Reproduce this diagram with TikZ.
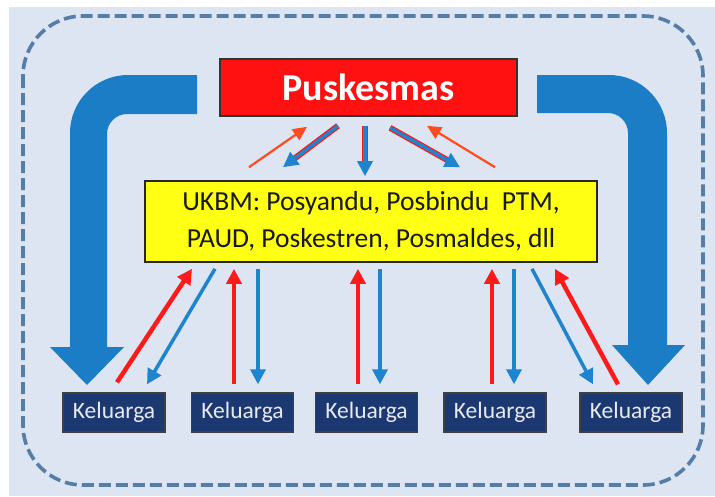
\documentclass[tikz,border=0pt]{standalone}
\usepackage{fontspec}
\setmainfont{Carlito}
\usetikzlibrary{arrows.meta,calc}
\definecolor{bgc}{RGB}{221,228,242}
\definecolor{dashc}{RGB}{84,126,168}
\definecolor{bigblue}{RGB}{27,125,198}
\definecolor{smblue}{RGB}{30,132,205}
\definecolor{smred}{RGB}{255,26,26}
\definecolor{smorange}{RGB}{255,75,31}
\definecolor{puskred}{RGB}{255,17,17}
\definecolor{ukyellow}{RGB}{255,255,20}
\definecolor{navy}{RGB}{28,56,113}
\definecolor{kltext}{RGB}{232,234,242}
\tikzset{
  pusk/.style={draw=black!80,line width=1.6pt,fill=puskred,text=white,font=\bfseries\fontsize{38}{38}\selectfont,minimum width=297pt,minimum height=57pt,inner sep=0pt},
  ukbm/.style={draw=black!85,line width=1.6pt,fill=ukyellow,text=black!90,font=\fontsize{27.5}{37}\selectfont,align=center,minimum width=452pt,minimum height=81pt,inner sep=0pt},
  kel/.style={draw=black!75,line width=1.4pt,fill=navy,text=kltext,font=\fontsize{23.5}{23.5}\selectfont,minimum width=102pt,minimum height=39pt,inner sep=0pt},
  redarr/.style={draw=smred,line width=4.5pt,-{Triangle[length=15pt,width=15pt]}},
  bluearr/.style={draw=smblue,line width=3.5pt,-{Triangle[length=15pt,width=15pt]}},
  orarr/.style={draw=smorange,line width=2.2pt,-{Triangle[length=14pt,width=13pt]}},
  underred/.style={draw=smred,line width=6pt,shorten >=12pt},
  bigarrow/.style={fill=bigblue},
  border/.style={draw=dashc,line width=3.6pt,dash pattern=on 12pt off 5pt,rounded corners=60pt}
}
\begin{document}
\begin{tikzpicture}[x=1pt,y=-1pt]
\useasboundingbox (0,0) rectangle (715,496);
\fill[white] (0,0) rectangle (715,496);
\fill[bgc] (9,7) rectangle (715,496);
\draw[border] (23,16) rectangle (703,485);

% big arrows
\fill[bigarrow] (197,75) -- (128,75) .. controls (96,75) and (70,101) .. (70,133) -- (70,347) -- (50,347) -- (87,385) -- (124,347) -- (107,347) -- (107,134) .. controls (107,123) and (116,114) .. (127,114) -- (197,114) -- cycle;
\fill[bigarrow] (537,75) -- (609,75) .. controls (641,75) and (667,101) .. (667,133) -- (667,345) -- (685,345) -- (648,385) -- (612,345) -- (628,345) -- (628,133) .. controls (628,122) and (619,113) .. (608,113) -- (537,113) -- cycle;

% nodes
\node[pusk] (pk) at (368.5,87.5) {Puskesmas};
\node[ukbm] (uk) at (371,221.5) {UKBM: Posyandu, Posbindu\ \ PTM,\\PAUD, Poskestren, Posmaldes, dll};
\node[kel] (k1) at (114,412.5) {Keluarga};
\node[kel] (k2) at (242.5,412.5) {Keluarga};
\node[kel] (k3) at (366.5,412.5) {Keluarga};
\node[kel] (k4) at (495,412.5) {Keluarga};
\node[kel] (k5) at (631,412.5) {Keluarga};

% top arrows
\draw[orarr] ($(uk.north)+(-122,-13)$) -- ($(pk.south)+(-61.5,10)$);
\draw[underred] ($(pk.south)+(-30.5,9)$) -- ($(uk.north)+(-88,-13)$);
\draw[bluearr] ($(pk.south)+(-30.5,9)$) -- ($(uk.north)+(-88,-13)$);
\draw[underred] ($(pk.south)+(-3.5,9)$) -- ($(uk.north)+(-6,-4)$);
\draw[bluearr] ($(pk.south)+(-3.5,9)$) -- ($(uk.north)+(-6,-4)$);
\draw[underred] ($(pk.south)+(21.5,11)$) -- ($(uk.north)+(89,-13)$);
\draw[bluearr] ($(pk.south)+(21.5,11)$) -- ($(uk.north)+(89,-13)$);
\draw[orarr] ($(uk.north)+(124,-13)$) -- ($(pk.south)+(58.5,9)$);

% bottom arrows
\draw[redarr] ($(k1.north)+(3,-10)$) -- ($(uk.south)+(-179,6)$);
\draw[bluearr] ($(uk.south)+(-156,6)$) -- ($(k1.north)+(33,-8)$);
\draw[redarr] ($(k2.north)+(-8.5,-8)$) -- ($(uk.south)+(-137,6)$);
\draw[bluearr] ($(uk.south)+(-113,6)$) -- ($(k2.north)+(15.5,-8)$);
\draw[redarr] ($(k3.north)+(-8.5,-8)$) -- ($(uk.south)+(-13,6)$);
\draw[bluearr] ($(uk.south)+(9,6)$) -- ($(k3.north)+(13.5,-8)$);
\draw[redarr] ($(k4.north)+(-3,-8)$) -- ($(uk.south)+(121,6)$);
\draw[bluearr] ($(uk.south)+(143,6)$) -- ($(k4.north)+(19,-8)$);
\draw[bluearr] ($(uk.south)+(161,6)$) -- ($(k5.north)+(-38,-8)$);
\draw[redarr] ($(k5.north)+(-13,-8)$) -- ($(uk.south)+(184,6)$);
\end{tikzpicture}
\end{document}
